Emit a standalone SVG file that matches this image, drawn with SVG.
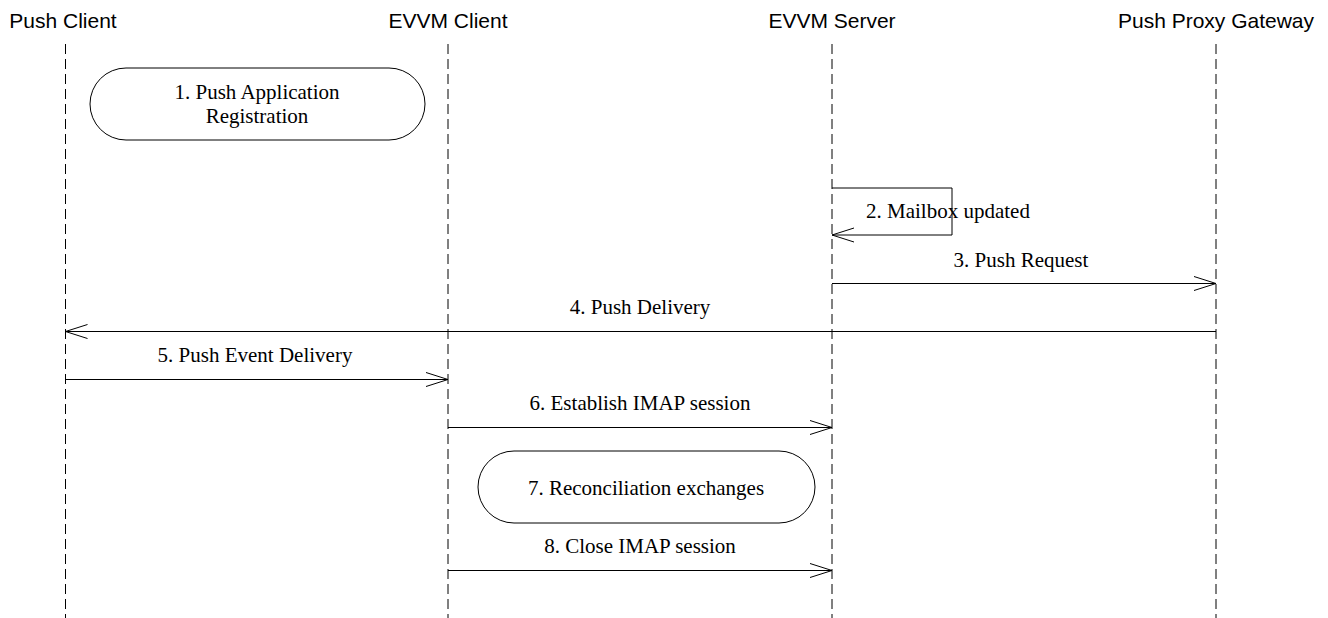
<svg xmlns="http://www.w3.org/2000/svg" width="1328" height="618" viewBox="0 0 1328 618">
<style>
.hdr{font-family:"Liberation Sans",Arial,sans-serif;font-size:21px;fill:#000;text-anchor:middle}
.lbl{font-family:"Liberation Serif","Times New Roman",serif;font-size:21px;fill:#000;text-anchor:middle}
.life{stroke:#000;stroke-width:1;stroke-dasharray:10 5;fill:none}
.msg{stroke:#000;stroke-width:1;fill:none}
.box{stroke:#000;stroke-width:1;fill:#fff}
</style>
<defs>
<marker id="open" viewBox="0 0 24 16" refX="23" refY="8" markerWidth="24" markerHeight="16" markerUnits="userSpaceOnUse" orient="auto">
<path d="M1,1 L23,8 L1,15" fill="none" stroke="#000" stroke-width="1"/>
</marker>
</defs>
<g id="lifelines">
<g id="push-client"><text class="hdr" x="63" y="28">Push Client</text><line class="life" x1="65.5" y1="44" x2="65.5" y2="618"/></g>
<g id="evvm-client"><text class="hdr" x="448" y="28">EVVM Client</text><line class="life" x1="448" y1="44" x2="448" y2="618"/></g>
<g id="evvm-server"><text class="hdr" x="832" y="28">EVVM Server</text><line class="life" x1="832" y1="44" x2="832" y2="618"/></g>
<g id="ppg"><text class="hdr" x="1216" y="28">Push Proxy Gateway</text><line class="life" x1="1216" y1="44" x2="1216" y2="618"/></g>
</g>
<g id="step1"><rect class="box" x="90" y="68" width="335" height="72" rx="36" ry="36"/><text class="lbl" x="257" y="99">1. Push Application</text><text class="lbl" x="257" y="123">Registration</text></g>
<g id="step7"><rect class="box" x="478" y="451" width="337" height="72" rx="36" ry="36"/><text class="lbl" x="646" y="495">7. Reconciliation exchanges</text></g>
<g id="connectors">
<path class="msg" d="M832,188 H952 V235 H832" marker-end="url(#open)"/>
<text class="lbl" x="948" y="218">2. Mailbox updated</text>
<line class="msg" x1="832" y1="283.5" x2="1216" y2="283.5" marker-end="url(#open)"/>
<text class="lbl" x="1021" y="267">3. Push Request</text>
<line class="msg" x1="1216" y1="331.5" x2="65.5" y2="331.5" marker-end="url(#open)"/>
<text class="lbl" x="640" y="314">4. Push Delivery</text>
<line class="msg" x1="65.5" y1="379.5" x2="448" y2="379.5" marker-end="url(#open)"/>
<text class="lbl" x="255" y="362">5. Push Event Delivery</text>
<line class="msg" x1="448" y1="427.5" x2="832" y2="427.5" marker-end="url(#open)"/>
<text class="lbl" x="640" y="410">6. Establish IMAP session</text>
<line class="msg" x1="448" y1="570.5" x2="832" y2="570.5" marker-end="url(#open)"/>
<text class="lbl" x="640" y="553">8. Close IMAP session</text>
</g>
</svg>
